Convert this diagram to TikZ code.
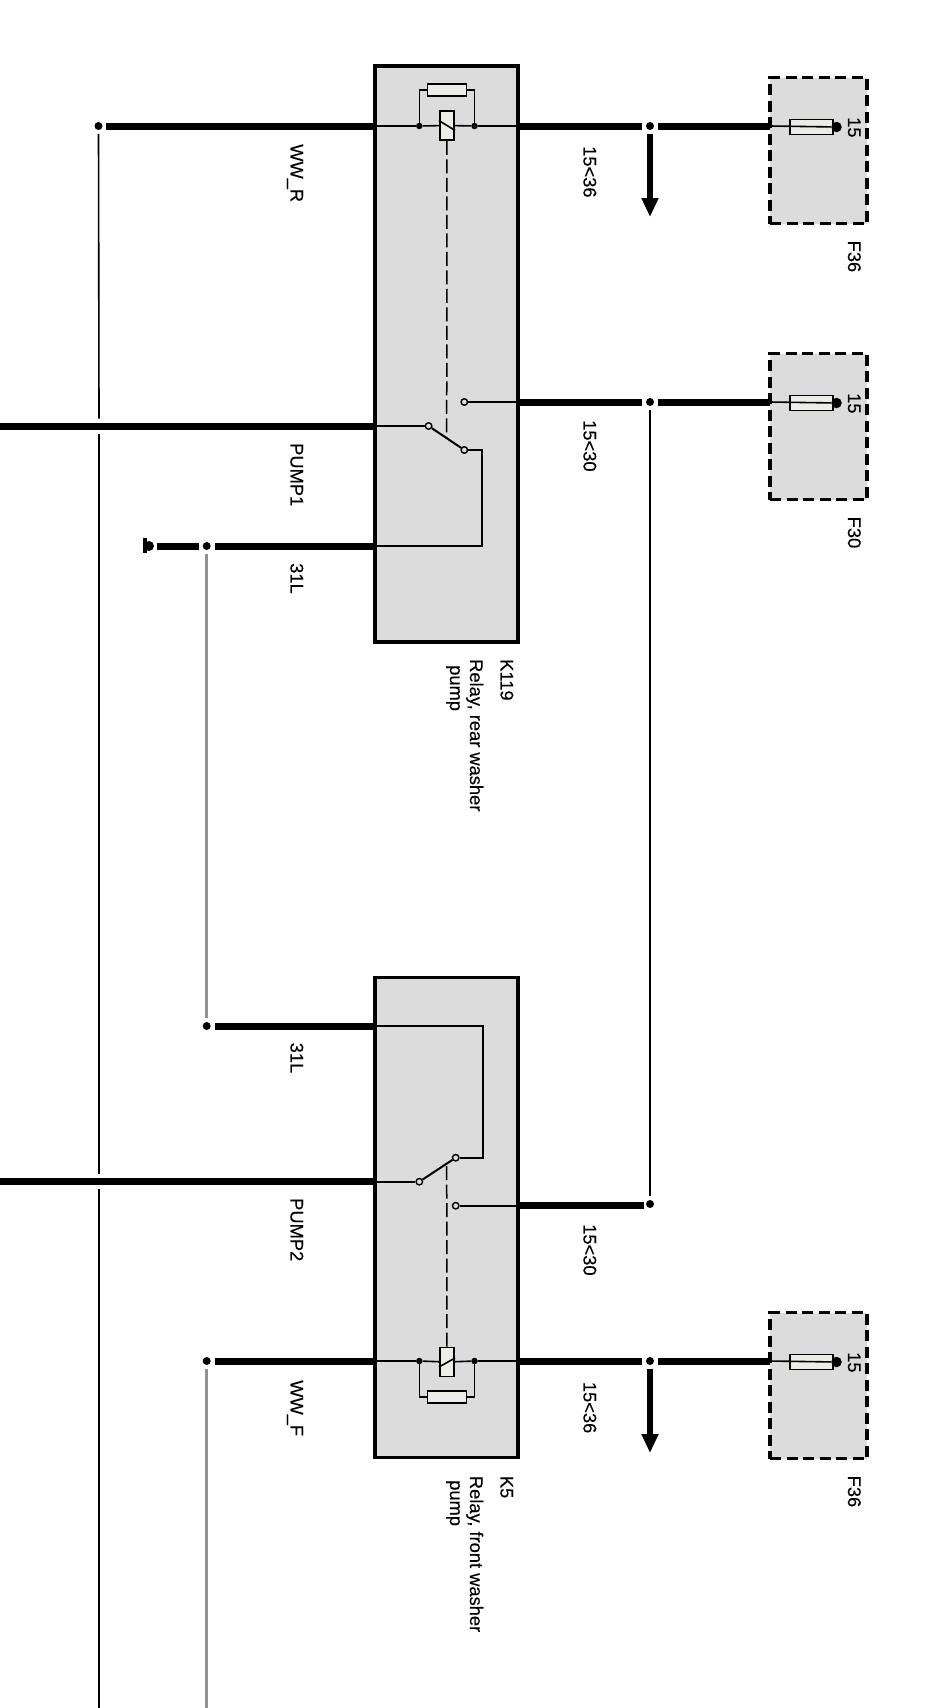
\documentclass[tikz,border=0pt]{standalone}
\usepackage{fontspec}
\setmainfont{Liberation Sans}
\newfontfamily\lblfont[FakeBold=0.25]{Liberation Sans}
\usetikzlibrary{arrows.meta}
\definecolor{boxgrey}{RGB}{220,220,220}
\definecolor{partgrey}{RGB}{236,236,232}
\definecolor{wiregrey}{RGB}{145,145,145}

\begin{document}
\begin{tikzpicture}[x=1pt,y=-1pt]
\tikzstyle{every node}=[font=\lblfont\fontsize{18.3}{20}\selectfont]
\tikzstyle{relaybox}=[draw,line width=3.8pt,fill=boxgrey,inner sep=0pt,minimum width=143pt]
\tikzstyle{fusebox}=[draw,line width=3.8pt,fill=boxgrey,dash pattern=on 11pt off 5.5pt,inner sep=0pt,minimum width=97pt,minimum height=146pt]
\tikzstyle{fuserect}=[draw,line width=1.7pt,fill=partgrey,inner sep=0pt,minimum width=43pt,minimum height=15pt]
\tikzstyle{coilrect}=[draw,line width=1.7pt,fill=partgrey,inner sep=0pt,minimum width=14.5pt,minimum height=29pt]
\tikzstyle{resrect}=[draw,line width=1.7pt,fill=partgrey,inner sep=0pt,minimum width=39pt,minimum height=11.5pt]
\tikzstyle{bigdot}=[circle,fill=black,inner sep=0pt,minimum size=8pt,outer sep=3.8pt]
\tikzstyle{smalldot}=[circle,fill=black,inner sep=0pt,minimum size=6.5pt]
\tikzstyle{contact}=[circle,draw,line width=1.4pt,fill=boxgrey,inner sep=0pt,minimum size=6.5pt]
\tikzstyle{fusehead}=[circle,fill=black,inner sep=0pt,minimum size=10.5pt]
\tikzstyle{lbl}=[rotate=-90,anchor=base west,inner sep=0pt]
\tikzstyle{thinwire}=[line width=1.6pt]
\tikzstyle{thickwire}=[line width=7pt]
\tikzstyle{greywire}=[line width=3pt,wiregrey]
\tikzstyle{linkline}=[line width=1.5pt,dash pattern=on 14pt off 4.5pt]
\tikzstyle{downarrow}=[line width=5.5pt,-{Triangle[width=16pt,length=19pt]}]

\useasboundingbox (0,0) rectangle (952,1708);

% relay boxes
\node[relaybox,minimum height=576pt] (relayR) at (446.7,353.8) {};
\node[relaybox,minimum height=480pt] (relayF) at (446.7,1217.5) {};

% fuses
\foreach \nm/\wy/\txt in {fuseA/126/F36,fuseB/402/F30,fuseC/1361/F36}{
  \node[fusebox] (\nm box) at (818.5,\wy+24.5) {};
  \node[fuserect] (\nm) at (811.5,\wy+1) {};
  \node[fusehead] (\nm head) at (836.5,\wy+1) {};
  \coordinate (\nm in) at (770,\wy);
  \node[lbl] (\nm pin) at (848,\wy-9) {15};
  \node[lbl] (\nm txt) at (848,\wy+114.5) {\txt};
  \draw[thinwire] (\nm in) -- (\nm head);
}

% junction dots
\node[bigdot] (dotWWR) at (98.5,126) {};
\node[bigdot] (dotA) at (650,126) {};
\node[bigdot] (dotB) at (650,402) {};
\node[bigdot] (dotC) at (650,1204) {};
\node[bigdot] (dotD) at (650,1361) {};
\node[bigdot] (dotL) at (206.7,546) {};
\node[bigdot] (dotM) at (206.7,1026) {};
\node[bigdot] (dotWWF) at (206.7,1361) {};

% edge points of the boxes
\coordinate (rL1) at (375,126);
\coordinate (rR1) at (518,126);
\coordinate (rL2) at (375,426);
\coordinate (rR2) at (518,402);
\coordinate (rL3) at (375,546);
\coordinate (fL1) at (375,1026);
\coordinate (fL2) at (375,1181.7);
\coordinate (fR2) at (518,1205.7);
\coordinate (fL3) at (375,1361);
\coordinate (fR3) at (518,1361);
\coordinate (pumpA) at (0,426);
\coordinate (pumpB) at (0,1181.7);
\coordinate (gapA) at (99,418.5);
\coordinate (gapB) at (99,433.5);
\coordinate (gapC) at (99,1174);
\coordinate (gapD) at (99,1189);
\coordinate (bottomA) at (99,1708);
\coordinate (bottomB) at (206.7,1708);
\coordinate (earth) at (157,546);
\coordinate (arrowA) at (650,217);
\coordinate (arrowB) at (650,1453);
\coordinate (cornerA) at (482,450);
\coordinate (cornerB) at (482,546);
\coordinate (cornerC) at (482.7,1026);
\coordinate (cornerD) at (482.7,1157.7);
\coordinate (fuseBend) at (770,402);
\coordinate (wireCend) at (643.5,1205.7);

% long lines
\draw[thinwire] (dotWWR) -- (gapA);
\draw[thinwire] (gapB) -- (gapC);
\draw[thinwire] (gapD) -- (bottomA);
\draw[thinwire] (dotB) -- (dotC);
\draw[greywire] (dotL) -- (dotM);
\draw[greywire] (dotWWF) -- (bottomB);

% relay, rear
\node[smalldot] (jR1) at (419.3,126) {};
\node[smalldot] (jR2) at (474.5,126) {};
\node[coilrect] (coilR) at (447,125.5) {};
\node[resrect] (resR) at (447,90) {};
\node[contact] (cR1) at (428.6,426) {};
\node[contact] (cR2) at (464.3,450) {};
\node[contact] (cR3) at (464.3,402) {};
\coordinate (swR) at (446.7,438);
\draw[thinwire] (rL1) -- (jR1) -- (coilR) -- (jR2) -- (rR1);
\draw[thinwire] (jR1) |- (resR);
\draw[thinwire] (jR2) |- (resR);
\draw[linkline] (coilR) -- (swR);
\draw[thinwire] ([yshift=5pt]coilR.west) -- ([yshift=-5pt]coilR.east);
\draw[thinwire] (rL2) -- (cR1);
\draw[line width=2pt] (cR1) -- (cR2);
\draw[thinwire] (cR2) -- (cornerA) -- (cornerB) -- (rL3);
\draw[thinwire] (cR3) -- (rR2);

% relay, front
\node[smalldot] (jF1) at (419.3,1361) {};
\node[smalldot] (jF2) at (474.5,1361) {};
\node[coilrect] (coilF) at (447,1362) {};
\node[resrect] (resF) at (447,1397) {};
\node[contact] (cF1) at (419.3,1181.7) {};
\node[contact] (cF2) at (455.7,1157.7) {};
\node[contact] (cF3) at (455.7,1205.7) {};
\coordinate (swF) at (446.7,1165);
\draw[thinwire] (fL3) -- (jF1) -- (coilF) -- (jF2) -- (fR3);
\draw[thinwire] (jF1) |- (resF);
\draw[thinwire] (jF2) |- (resF);
\draw[linkline] (coilF) -- (swF);
\draw[thinwire] ([yshift=-5pt]coilF.west) -- ([yshift=4pt]coilF.east);
\draw[thinwire] (fL2) -- (cF1);
\draw[line width=2pt] (cF1) -- (cF2);
\draw[thinwire] (cF2) -- (cornerD) -- (cornerC) -- (fL1);
\draw[thinwire] (cF3) -- (fR2);

% thick wires
\draw[thickwire] (dotWWR) -- (rL1);
\draw[thickwire] (rR1) -- (dotA);
\draw[thickwire] (dotA) -- (fuseAin);
\draw[thickwire] (pumpA) -- (rL2);
\draw[thickwire] (rR2) -- (dotB);
\draw[thickwire] (dotB) -- (fuseBend);
\draw[thickwire] (dotL) -- (rL3);
\draw[thickwire] (earth) -- (dotL);
\draw[thickwire] (dotM) -- (fL1);
\draw[thickwire] (pumpB) -- (fL2);
\draw[thickwire] (fR2) -- (wireCend);
\draw[thickwire] (dotWWF) -- (fL3);
\draw[thickwire] (fR3) -- (dotD);
\draw[thickwire] (dotD) -- (fuseCin);
\draw[downarrow] (dotA) -- (arrowA);
\draw[downarrow] (dotD) -- (arrowB);

% earth symbol
\node[fill=black,inner sep=0pt,minimum width=4pt,minimum height=14.5pt] (earthbar) at (145,545.5) {};
\node[circle,fill=black,inner sep=0pt,minimum size=10pt] (earthcap) at (149,546) {};

% labels
\node[lbl] (wwr) at (290.5,144) {WW\_R};
\node[lbl] (pumpone) at (290.5,443) {PUMP1};
\node[lbl] (gndA) at (290.5,563) {31L};
\node[lbl] (gndB) at (290.5,1042.5) {31L};
\node[lbl] (pumptwo) at (290.5,1198) {PUMP2};
\node[lbl] (wwf) at (290.5,1380) {WW\_F};
\node[lbl] (sA) at (583.5,146) {15<36};
\node[lbl] (sB) at (583.5,420) {15<30};
\node[lbl] (sC) at (583.5,1224) {15<30};
\node[lbl] (sD) at (583.5,1381.7) {15<36};
\node[lbl] (kR) at (500.5,659) {K119};
\node[lbl] (kRa) at (470,659) {Relay, rear washer};
\node[lbl] (kRb) at (450,665) {pump};
\node[lbl] (kF) at (500.5,1475.7) {K5};
\node[lbl] (kFa) at (470,1475.7) {Relay, front washer};
\node[lbl] (kFb) at (450,1480) {pump};

\end{tikzpicture}
\end{document}
